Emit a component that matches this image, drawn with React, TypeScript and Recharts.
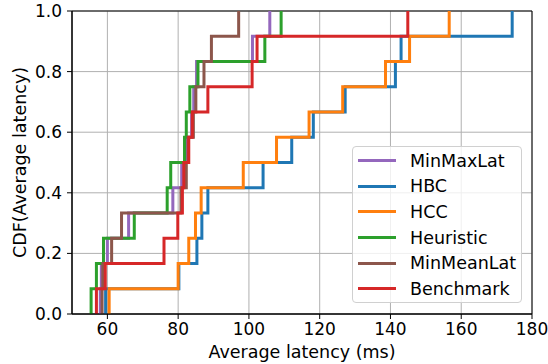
import { LineChart, Line, XAxis, YAxis, CartesianGrid, Legend, ReferenceArea } from "recharts";

// sorted average latencies (ms), 12 runs per method
const minMaxLat = [58.0, 58.3, 60.0, 66.0, 78.5, 81.0, 82.3, 83.8, 84.4, 85.2, 101.0, 105.9];
const hbc = [59.5, 80.2, 85.3, 86.7, 88.4, 104.0, 112.1, 118.2, 127.2, 141.4, 143.0, 174.4];
const hcc = [60.5, 80.0, 83.0, 84.9, 86.5, 98.4, 107.8, 117.0, 126.5, 138.6, 145.4, 156.6];
const heuristic = [55.4, 56.9, 58.9, 67.6, 76.9, 77.9, 81.8, 82.3, 83.3, 85.6, 104.5, 109.1];
const minMeanLat = [58.5, 58.7, 61.2, 64.0, 80.8, 82.3, 82.8, 84.3, 85.0, 87.3, 89.4, 97.1];
const benchmark = [56.9, 59.4, 76.0, 79.9, 81.2, 81.6, 83.0, 84.0, 88.4, 100.9, 102.3, 144.9];

const cdfLevels = [0, 0.0833, 0.1667, 0.25, 0.3333, 0.4167, 0.5, 0.5833, 0.6667, 0.75, 0.8333, 0.9167, 1.0];

const xTicks = [60, 80, 100, 120, 140, 160, 180];
const yTicks = [0, 0.2, 0.4, 0.6, 0.8, 1.0];

const SERIES = [
  { name: "MinMaxLat", values: minMaxLat, color: "#9467bd" },
  { name: "HBC", values: hbc, color: "#1f77b4" },
  { name: "HCC", values: hcc, color: "#ff7f0e" },
  { name: "Heuristic", values: heuristic, color: "#2ca02c" },
  { name: "MinMeanLat", values: minMeanLat, color: "#8c564b" },
  { name: "Benchmark", values: benchmark, color: "#d62728" },
];

const FONT = "DejaVu Sans, sans-serif";

const toCdf = (vals: number[]) => [
  { x: vals[0], y: cdfLevels[0] },
  ...vals.map((x, i) => ({ x, y: cdfLevels[i + 1] })),
];

const LegendBox = () => (
  <div
    style={{
      width: 170,
      height: 157,
      boxSizing: "border-box",
      border: "1px solid #d0d0d0",
      borderRadius: 4,
      background: "rgba(255,255,255,0.8)",
      paddingTop: 1,
      fontFamily: FONT,
      fontSize: 17.5,
      color: "#000",
    }}
  >
    {SERIES.map((s) => (
      <div key={s.name} style={{ display: "flex", alignItems: "center", height: 25.6 }}>
        <div style={{ marginLeft: 5, width: 38, height: 3, background: s.color }} />
        <span style={{ marginLeft: 14, lineHeight: "20px" }}>{s.name}</span>
      </div>
    ))}
  </div>
);

const YLabel = (props: any) => {
  const vb = props.viewBox || {};
  const cx = 20;
  const cy = vb.y + vb.height / 2;
  return (
    <text
      x={cx}
      y={cy}
      transform={`rotate(-90, ${cx}, ${cy})`}
      textAnchor="middle"
      dominantBaseline="central"
      fontFamily={FONT}
      fontSize={17.5}
      fill="#000"
    >
      CDF(Average latency)
    </text>
  );
};

const XLabel = (props: any) => {
  const vb = props.viewBox || {};
  return (
    <text
      x={vb.x + vb.width / 2}
      y={352}
      textAnchor="middle"
      dominantBaseline="central"
      fontFamily={FONT}
      fontSize={17.5}
      fill="#000"
    >
      Average latency (ms)
    </text>
  );
};

const App = () => (
  <div style={{ position: "absolute", left: 0, top: 0 }}>
    <LineChart width={548} height={364} margin={{ top: 11, right: 16, left: 0, bottom: 0 }}>
      <CartesianGrid stroke="#b0b0b0" strokeWidth={1} />
      <XAxis
        type="number"
        dataKey="x"
        domain={[50, 180]}
        ticks={xTicks}
        allowDataOverflow
        height={50}
        tickSize={5}
        tickMargin={4}
        axisLine={{ stroke: "#000" }}
        tickLine={{ stroke: "#000" }}
        tick={{ fill: "#000", fontFamily: FONT, fontSize: 17 }}
        label={<XLabel />}
      />
      <YAxis
        type="number"
        domain={[0, 1]}
        ticks={yTicks}
        width={72}
        tickSize={5}
        tickMargin={5}
        tickFormatter={(v: number) => v.toFixed(1)}
        axisLine={{ stroke: "#000" }}
        tickLine={{ stroke: "#000" }}
        tick={{ fill: "#000", fontFamily: FONT, fontSize: 17 }}
        label={<YLabel />}
      />
      <ReferenceArea x1={50} x2={180} y1={0} y2={1} fill="none" stroke="#000" strokeWidth={1} ifOverflow="visible" />
      {SERIES.map((s) => (
        <Line
          key={s.name}
          name={s.name}
          data={toCdf(s.values)}
          dataKey="y"
          type="stepAfter"
          stroke={s.color}
          strokeWidth={3}
          dot={false}
          activeDot={false}
          isAnimationActive={false}
        />
      ))}
      <Legend
        layout="vertical"
        align="center"
        verticalAlign="middle"
        content={() => <LegendBox />}
        wrapperStyle={{ position: "absolute", left: 352, top: 146, width: 170, height: 157, bottom: "auto" }}
      />
    </LineChart>
  </div>
);

export default App;
